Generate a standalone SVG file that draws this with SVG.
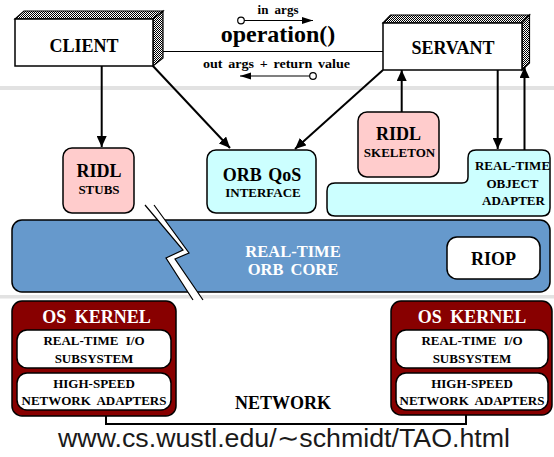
<svg xmlns="http://www.w3.org/2000/svg" width="554" height="457" viewBox="0 0 554 457">
  <style>
    .lbl { font-family: "Liberation Serif", "Times New Roman", serif; font-weight: bold; text-anchor: middle; fill: #000; }
    .wht { fill: #fff; }
    .big { font-size: 18px; }
    .mid { font-size: 16.5px; }
    .sm { font-size: 13px; }
    .edge { stroke: #000; stroke-width: 2; fill: none; }
    .thin { stroke: #000; stroke-width: 1.2; fill: none; }
    .box { stroke: #000; stroke-width: 1.5; }
    .pink { fill: #ffcccc; }
    .cyan { fill: #ccffff; }
    .band { fill: #e2e2e2; }
  </style>
  <defs>
    <pattern id="dither" width="2" height="2" patternUnits="userSpaceOnUse">
      <rect width="2" height="2" fill="#fff"/>
      <rect width="1" height="1" fill="#000"/>
      <rect x="1" y="1" width="1" height="1" fill="#000"/>
    </pattern>
    <marker id="head" markerUnits="userSpaceOnUse" markerWidth="12" markerHeight="10" refX="11" refY="5" orient="auto">
      <path d="M0,0 L11,5 L0,10 Z" fill="#000"/>
    </marker>
    <marker id="headSm" markerUnits="userSpaceOnUse" markerWidth="12" markerHeight="8" refX="11" refY="3.5" orient="auto">
      <path d="M0,0 L11,3.5 L0,7 Z" fill="#000"/>
    </marker>
  </defs>

  <rect width="554" height="457" fill="#fff"/>

  <!-- layer separators -->
  <rect class="band" x="0" y="86" width="554" height="4"/>
  <rect class="band" x="0" y="295" width="554" height="3.5"/>

  <!-- invocation between client and servant -->
  <g id="invocation">
    <line class="thin" x1="163" y1="51.5" x2="383" y2="51.5" stroke-width="1.5"/>
    <text class="lbl" x="278" y="13.5" font-size="13" word-spacing="3">in args</text>
    <circle cx="241" cy="20.5" r="3.3" fill="#fff" stroke="#000" stroke-width="1.2"/>
    <line class="thin" x1="244.3" y1="20.5" x2="313" y2="20.5" marker-end="url(#headSm)"/>
    <text class="lbl" x="278" y="41.5" font-size="24">operation()</text>
    <text class="lbl" x="276.5" y="67.5" font-size="13" word-spacing="2" textLength="147" lengthAdjust="spacingAndGlyphs">out args + return value</text>
    <circle cx="313" cy="76" r="3.3" fill="#fff" stroke="#000" stroke-width="1.2"/>
    <line class="thin" x1="309.7" y1="76" x2="240" y2="76" marker-end="url(#headSm)"/>
  </g>

  <!-- connectors -->
  <g id="connectors">
    <line class="edge" x1="101.7" y1="66" x2="101.7" y2="147" marker-end="url(#head)"/>
    <line class="edge" x1="153" y1="66" x2="230" y2="148" marker-end="url(#head)"/>
    <line class="edge" x1="383" y1="70" x2="295" y2="149" marker-end="url(#head)"/>
    <line class="edge" x1="401.7" y1="112" x2="401.7" y2="70" marker-end="url(#head)"/>
    <line class="edge" x1="497.7" y1="70" x2="497.7" y2="149" marker-end="url(#head)"/>
    <line class="edge" x1="524.5" y1="150" x2="524.5" y2="67" marker-end="url(#head)"/>
    <polyline class="edge" points="106,416 106,424 466,424 466,415"/>
  </g>

  <g id="client">
    <polygon points="15,19 24,11 163,11 153,19" fill="url(#dither)" stroke="#000" stroke-width="1.2"/>
    <polygon points="153,19 163,11 163,58 153,66" fill="url(#dither)" stroke="#000" stroke-width="1.2"/>
    <rect x="15" y="19" width="138" height="47" fill="#fff" stroke="#000" stroke-width="1.5"/>
    <text class="lbl big" x="84" y="52.3">CLIENT</text>
  </g>

  <g id="servant">
    <polygon points="383,23 390.5,15 529.5,15 522,23" fill="url(#dither)" stroke="#000" stroke-width="1.2"/>
    <polygon points="522,23 529.5,15 529.5,63 522,70" fill="url(#dither)" stroke="#000" stroke-width="1.2"/>
    <rect x="383" y="23" width="139" height="47" fill="#fff" stroke="#000" stroke-width="1.5"/>
    <text class="lbl big" x="453" y="54">SERVANT</text>
  </g>

  <g id="ridl-stubs">
    <rect class="box pink" x="63" y="148" width="71" height="65" rx="9"/>
    <text class="lbl big" x="99" y="177.3">RIDL</text>
    <text class="lbl sm" x="99" y="194">STUBS</text>
  </g>

  <g id="orb-qos">
    <rect class="box cyan" x="207" y="150" width="109" height="63" rx="9"/>
    <text class="lbl big" x="262" y="180.7" word-spacing="2">ORB QoS</text>
    <text class="lbl sm" x="263" y="197.3">INTERFACE</text>
  </g>

  <g id="ridl-skeleton">
    <rect class="box pink" x="358" y="112" width="81" height="65" rx="9"/>
    <text class="lbl big" x="398.5" y="140">RIDL</text>
    <text class="lbl sm" x="399.5" y="157.3">SKELETON</text>
  </g>

  <g id="object-adapter">
    <path class="box cyan" d="M335,183 H462 Q468,183 468,177 V158 Q468,150 476,150 H542 Q550,150 550,158 V208 Q550,216 542,216 H335 Q327,216 327,208 V191 Q327,183 335,183 Z"/>
    <text class="lbl sm" x="512.5" y="170" font-size="12.8">REAL-TIME</text>
    <text class="lbl sm" x="512.5" y="188.3">OBJECT</text>
    <text class="lbl sm" x="513.5" y="205">ADAPTER</text>
  </g>

  <g id="orb-core">
    <rect class="box" x="12" y="220" width="538" height="72" rx="10" fill="#6699cc"/>
    <text class="lbl wht mid" x="293" y="257">REAL-TIME</text>
    <text class="lbl wht mid" x="293" y="275" word-spacing="3">ORB CORE</text>
  </g>

  <g id="riop">
    <rect class="box" x="447" y="237" width="93" height="42" rx="10" fill="#fff"/>
    <text class="lbl big" x="493.5" y="265">RIOP</text>
  </g>

  <!-- break through the ORB core -->
  <g id="break">
    <polygon points="145,205 154,205 189,253 175,259 203,300 193,300 166,258 183,250" fill="#fff"/>
    <polyline class="thin" points="145,205 183,250 166,258 193,300"/>
    <polyline class="thin" points="154,205 189,253 175,259 203,300"/>
  </g>

  <g id="os-kernel-left">
    <rect class="box" x="12" y="301" width="164" height="115" rx="10" fill="#880000"/>
    <text class="lbl wht big" x="96.5" y="323.3" word-spacing="4">OS KERNEL</text>
    <rect class="box" x="17" y="330" width="154" height="38" rx="10" fill="#fff"/>
    <text class="lbl sm" x="94" y="345" word-spacing="4">REAL-TIME I/O</text>
    <text class="lbl sm" x="94" y="362.7">SUBSYSTEM</text>
    <rect class="box" x="17" y="373" width="154" height="37" rx="10" fill="#fff"/>
    <text class="lbl sm" x="94" y="387.7">HIGH-SPEED</text>
    <text class="lbl sm" x="94" y="405" word-spacing="3" textLength="145" lengthAdjust="spacingAndGlyphs">NETWORK ADAPTERS</text>
  </g>

  <g id="os-kernel-right">
    <rect class="box" x="391" y="301" width="161" height="114" rx="10" fill="#880000"/>
    <text class="lbl wht big" x="472" y="323.3" word-spacing="4">OS KERNEL</text>
    <rect class="box" x="396" y="330" width="152" height="38" rx="10" fill="#fff"/>
    <text class="lbl sm" x="472" y="345" word-spacing="4">REAL-TIME I/O</text>
    <text class="lbl sm" x="472" y="362.7">SUBSYSTEM</text>
    <rect class="box" x="396" y="373" width="152" height="37" rx="10" fill="#fff"/>
    <text class="lbl sm" x="472" y="387.7">HIGH-SPEED</text>
    <text class="lbl sm" x="472" y="405" word-spacing="3" textLength="145" lengthAdjust="spacingAndGlyphs">NETWORK ADAPTERS</text>
  </g>

  <g id="network">
    <text class="lbl big" x="283" y="409">NETWORK</text>
  </g>

  <text x="284" y="447" font-family="'Liberation Sans', Arial, sans-serif" font-size="26" fill="#1a1a1a" text-anchor="middle" textLength="452" lengthAdjust="spacingAndGlyphs">www.cs.wustl.edu/∼schmidt/TAO.html</text>
</svg>
